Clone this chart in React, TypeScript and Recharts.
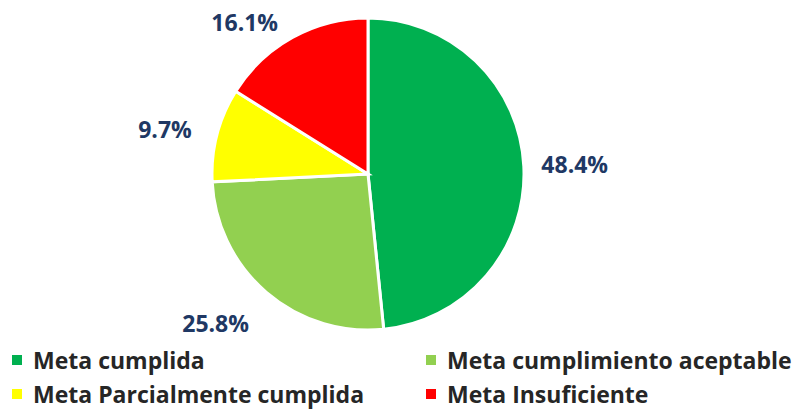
import { PieChart, Pie, Cell, Legend } from 'recharts';

const categories = ['Meta cumplida', 'Meta cumplimiento aceptable', 'Meta Parcialmente cumplida', 'Meta Insuficiente'];
const values = [48.4, 25.8, 9.7, 16.1];
const colors = ['#00B050', '#92D050', '#FFFF00', '#FF0000'];

// label placement tweaks (polar: extra radius, angle shift in degrees)
const labelRadius = [51, 57, 52, 40];
const labelShift = [0, -5, 2, 10];

const data = categories.map((name, i) => ({ name, value: values[i] }));

const RADIAN = Math.PI / 180;

const renderLabel = (props: any) => {
  const { cx, cy, midAngle, outerRadius, index, value } = props;
  const r = outerRadius + labelRadius[index];
  const a = (midAngle + labelShift[index]) * RADIAN;
  const x = cx + r * Math.cos(a);
  const y = cy - r * Math.sin(a);
  return (
    <text
      x={x}
      y={y}
      fill="#203864"
      textAnchor="middle"
      dominantBaseline="central"
      fontFamily="'Open Sans', sans-serif"
      fontWeight={700}
      fontSize={23}
    >
      {`${value.toFixed(1)}%`}
    </text>
  );
};

const renderLegend = () => (
  <div
    style={{
      display: 'grid',
      gridTemplateColumns: '414px 383px',
      rowGap: 8,
      fontFamily: "'Open Sans', sans-serif",
      fontWeight: 700,
      fontSize: 23,
      lineHeight: '26px',
      color: '#262626',
      whiteSpace: 'nowrap',
    }}
  >
    {[0, 1, 2, 3].map((i) => (
      <div key={i} style={{ display: 'flex', alignItems: 'center', paddingLeft: 12, height: 26 }}>
        <span style={{ width: 10, height: 10, background: colors[i], marginRight: 11, display: 'inline-block', flexShrink: 0 }} />
        <span>{categories[i]}</span>
      </div>
    ))}
  </div>
);

export default function App() {
  return (
    <div style={{ position: 'absolute', left: 0, top: 0, width: 797, height: 410, background: '#fff', overflow: 'hidden' }}>
      <PieChart width={797} height={410} margin={{ top: 0, right: 0, bottom: 0, left: 0 }}>
        <Pie
          data={data}
          dataKey="value"
          nameKey="name"
          cx={368}
          cy={174}
          outerRadius={156}
          startAngle={90}
          endAngle={-270}
          stroke="#fff"
          strokeWidth={3}
          label={renderLabel}
          labelLine={false}
          isAnimationActive={false}
        >
          {data.map((d, i) => (
            <Cell key={d.name} fill={colors[i]} />
          ))}
        </Pie>
        <Legend
          content={renderLegend}
          wrapperStyle={{ position: 'absolute', left: 0, top: 347, width: 797 }}
        />
      </PieChart>
    </div>
  );
}
